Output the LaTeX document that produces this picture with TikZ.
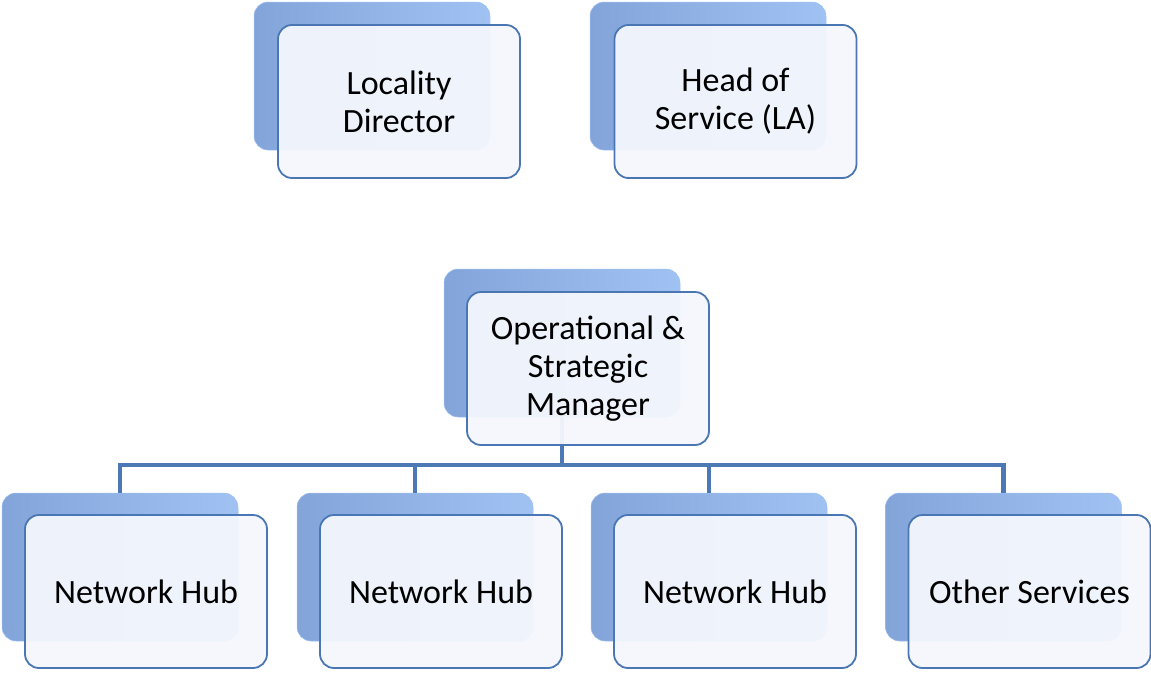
\documentclass[tikz,border=0pt]{standalone}
\usepackage{fontspec}
\setmainfont{Carlito}
\usetikzlibrary{calc}
\definecolor{backL}{HTML}{82A4D9}
\definecolor{backM}{HTML}{95B9EE}
\definecolor{backR}{HTML}{A0C2F3}
\definecolor{frontF}{HTML}{F4F7FD}
\definecolor{edge}{HTML}{4A77B4}
\definecolor{connc}{HTML}{4C79B6}
\tikzset{
 backbox/.style={rounded corners=14pt, minimum width=236pt, minimum height=148pt, left color=backL, middle color=backM, right color=backR, draw=backR, line width=0.5pt, inner sep=0pt},
 frontbox/.style={rounded corners=14pt, minimum width=242pt, minimum height=153pt, draw=edge, line width=1.8pt, fill=frontF, fill opacity=0.95, text opacity=1, draw opacity=1, align=center, font=\fontsize{34}{38}\selectfont, inner sep=0pt, text=black},
 connline/.style={draw=connc, line width=4.5pt}
}
\begin{document}
\begin{tikzpicture}[x=1pt,y=-1pt]
\useasboundingbox (0,0) rectangle (1151,672);
% back boxes
\node[backbox] (ldB) at (372,76) {};
\node[backbox] (hsB) at (708,76) {};
\node[backbox] (opB) at (562,343) {};
\node[backbox] (h1B) at (120,567) {};
\node[backbox] (h2B) at (415,567) {};
\node[backbox] (h3B) at (709,567) {};
\node[backbox] (osB) at (1003.5,567) {};
% connectors
\coordinate (busY) at (0,465);
\draw[connline] (opB.south) -- (opB.south |- busY);
\draw[connline] (h1B.north) |- (osB.north |- busY) -- (osB.north);
\draw[connline] (h2B.north) -- (h2B.north |- busY);
\draw[connline] (h3B.north) -- (h3B.north |- busY);
% front boxes
\node[frontbox] (ldF) at (399,101.5) {Locality\\Director};
\node[frontbox] (hsF) at (735.5,101.5) {Head of\\Service (LA)};
\node[frontbox] (opF) at (588,368.5) {Operational \&\\Strategic\\Manager};
\node[frontbox] (h1F) at (146,591.5) {Network Hub};
\node[frontbox] (h2F) at (441,591.5) {Network Hub};
\node[frontbox] (h3F) at (735,591.5) {Network Hub};
\node[frontbox] (osF) at (1029.5,591.5) {Other Services};
\end{tikzpicture}
\end{document}
